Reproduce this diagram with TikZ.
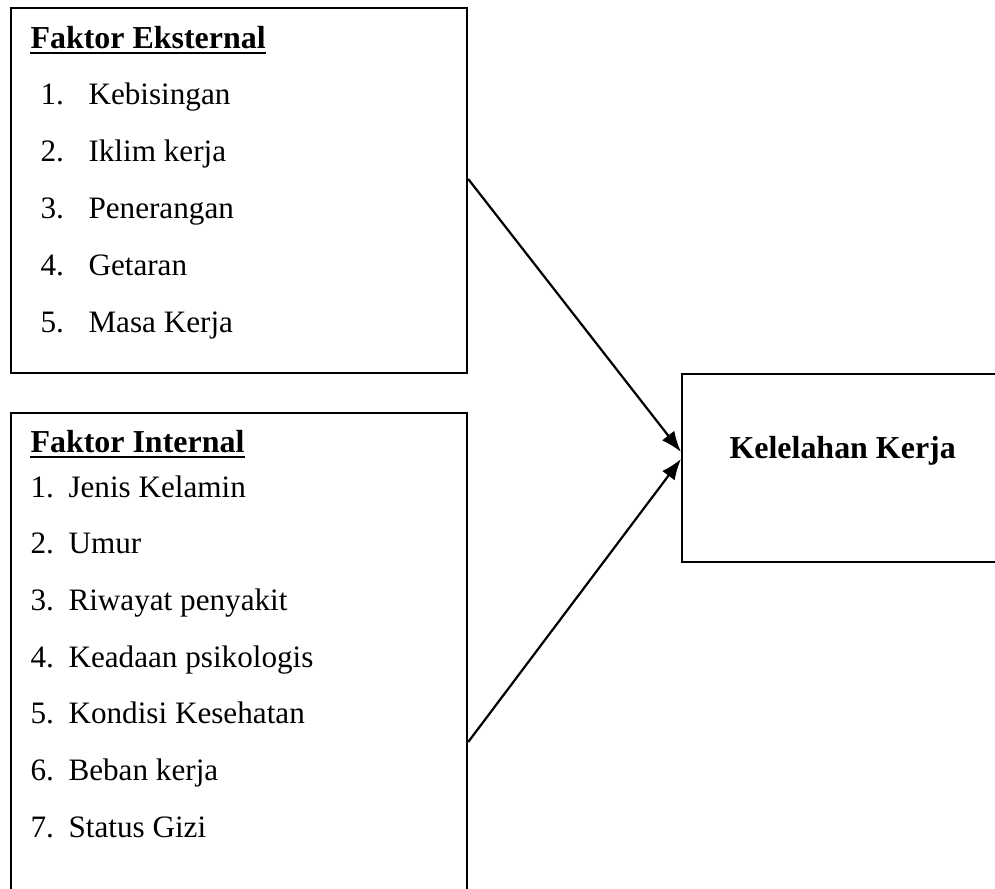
\documentclass[tikz,border=0pt]{standalone}
\usepackage{fontspec}
\setmainfont{Liberation Serif}
\usetikzlibrary{arrows.meta}
\begin{document}
\begin{tikzpicture}[x=0.385pt,y=-0.385pt,
  boxline/.style={draw=black,line width=0.85pt},
  txt/.style={anchor=base west,inner sep=0pt,font=\fontsize{12pt}{14pt}\selectfont},
  head/.style={txt,font=\fontsize{12.3pt}{14pt}\selectfont\bfseries},
  uline/.style={line width=1.1pt},
  conn/.style={line width=0.85pt,-{Latex[length=8pt,width=6pt]}}]
\useasboundingbox (0,0) rectangle (995,888);
\clip (0,0) rectangle (995,888);
% boxes
\node[boxline,inner sep=0pt,minimum width=456*0.385pt,minimum height=365*0.385pt,anchor=north west] (ext) at (10,7) {};
\node[boxline,inner sep=0pt,minimum width=456*0.385pt,minimum height=500*0.385pt,anchor=north west] (int) at (10,412) {};
\node[boxline,inner sep=0pt,minimum width=340*0.385pt,minimum height=188*0.385pt,anchor=north west] (kk) at (681,373) {};
% external text
\node[head] (eh) at (30,48) {Faktor Eksternal};
\draw[uline] ([yshift=-1.9pt]eh.base west) -- ([yshift=-1.9pt]eh.base east);
\foreach \n/\t [count=\i from 0] in {1/Kebisingan,2/Iklim kerja,3/Penerangan,4/Getaran,5/Masa Kerja}{
  \node[txt] (en\i) at (40,104+57*\i) {\n.};
  \node[txt] (et\i) at (88,104+57*\i) {\t};
}
% internal text
\node[head] (ih) at (30,452) {Faktor Internal};
\draw[uline] ([yshift=-1.9pt]ih.base west) -- ([yshift=-1.9pt]ih.base east);
\foreach \n/\t [count=\i from 0] in {1/Jenis Kelamin,2/Umur,3/Riwayat penyakit,4/Keadaan psikologis,5/Kondisi Kesehatan,6/Beban kerja,7/Status Gizi}{
  \node[txt] (in\i) at (30,497+56.7*\i) {\n.};
  \node[txt] (it\i) at (68,497+56.7*\i) {\t};
}
% result text
\node[head] (kt) at (729,458) {Kelelahan Kerja};
% connectors
\coordinate (s1) at (ext.east |- 0,179);
\coordinate (s2) at (int.east |- 0,742);
\coordinate (t1) at (kk.west |- 0,452);
\coordinate (t2) at (kk.west |- 0,459);
\draw[conn] (s1) -- (t1);
\draw[conn] (s2) -- (t2);
\end{tikzpicture}
\end{document}
